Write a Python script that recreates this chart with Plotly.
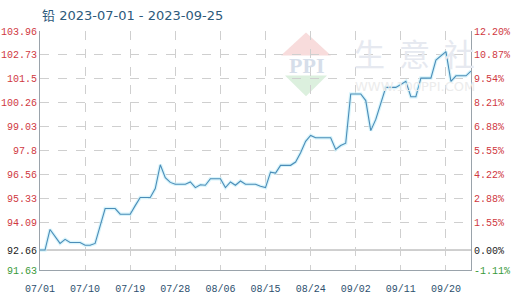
import pandas as pd
import plotly.graph_objects as go

# ---------------- data ----------------
title_text = "铅 2023-07-01 - 2023-09-25"
start_date = "2023-07-01"
end_date = "2023-09-25"
base_value = 92.66

july = [92.66, 92.66, 93.72, 93.36, 93.00, 93.21, 93.05, 93.05, 93.05, 92.91,
        92.91, 93.00, 93.90, 94.80, 94.80, 94.80, 94.51, 94.51, 94.51, 94.95,
        95.37, 95.37, 95.37, 95.83, 97.06, 96.39, 96.15, 96.05, 96.05, 96.05,
        96.17]
august = [95.88, 96.03, 96.00, 96.34, 96.34, 96.34, 95.88, 96.17, 96.00, 96.22,
          96.05, 96.05, 96.05, 95.95, 95.88, 96.68, 96.63, 97.03, 97.03, 97.03,
          97.20, 97.68, 98.27, 98.57, 98.45, 98.45, 98.45, 98.45, 97.85, 98.05,
          98.17]
september = [100.71, 100.71, 100.71, 100.37, 98.82, 99.40, 100.20, 101.05, 101.05,
             101.05, 101.20, 101.36, 100.57, 100.57, 101.53, 101.53, 101.53,
             102.46, 102.70, 102.90, 101.36, 101.65, 101.65, 101.65, 101.89]

left_tick_labels = ["91.63", "92.66", "94.09", "95.33", "96.56", "97.8",
                    "99.03", "100.26", "101.5", "102.73", "103.96"]
right_tick_labels = ["-1.11%", "0.00%", "1.55%", "2.88%", "4.22%", "5.55%",
                     "6.88%", "8.21%", "9.54%", "10.87%", "12.20%"]
x_tick_dates = ["2023-07-01", "2023-07-10", "2023-07-19", "2023-07-28",
                "2023-08-06", "2023-08-15", "2023-08-24", "2023-09-02",
                "2023-09-11", "2023-09-20"]
x_tick_labels = ["07/01", "07/10", "07/19", "07/28", "08/06", "08/15",
                 "08/24", "09/02", "09/11", "09/20"]

# ---------------- build ----------------
dates = pd.date_range(start_date, end_date, freq="D")
values = july + august + september

RED = "#d0393f"
GREEN = "#3a9a3a"
BLACK = "#222222"
LINE = "#4b8db8"
GRID = "#cfcfcf"
AXIS = "#9aa3ab"


def col(v):
    if abs(v - base_value) < 1e-9:
        return BLACK
    return RED if v > base_value else GREEN


tickvals = [float(t) for t in left_tick_labels]
left_text = ["<span style='color:%s'>%s</span>" % (col(v), t)
             for v, t in zip(tickvals, left_tick_labels)]
right_text = ["<span style='color:%s'>%s</span>" % (col(v), t)
              for v, t in zip(tickvals, right_tick_labels)]

# plot area in pixels
W, H = 520, 300
L, R, T, B = 40, 471, 30.5, 270


def px(x):
    return (x - L) / (R - L)


def py(y):
    return (B - y) / (B - T)


fig = go.Figure()

# glow under line
fig.add_trace(go.Scatter(x=dates, y=values, mode="lines",
                         line=dict(color="rgba(200,240,250,0.7)", width=3.5),
                         hoverinfo="skip", showlegend=False))
fig.add_trace(go.Scatter(x=dates, y=values, mode="lines",
                         line=dict(color=LINE, width=1.1),
                         showlegend=False))
# invisible trace for right axis
fig.add_trace(go.Scatter(x=[dates[0]], y=[base_value], yaxis="y2",
                         mode="markers", marker=dict(opacity=0),
                         hoverinfo="skip", showlegend=False))

shapes = []
# watermark logo (decoration)
shapes.append(dict(type="path", xref="paper", yref="paper", layer="below",
                   path="M %f %f L %f %f L %f %f Z" % (px(306), py(32), px(331), py(55), px(281), py(55)),
                   fillcolor="#f8dcdc", line=dict(width=0)))
shapes.append(dict(type="path", xref="paper", yref="paper", layer="below",
                   path="M %f %f L %f %f L %f %f Z" % (px(285), py(75), px(327), py(75), px(306), py(96)),
                   fillcolor="#dcf0de", line=dict(width=0)))
# base line
shapes.append(dict(type="line", xref="paper", yref="y", x0=0, x1=1,
                   y0=base_value, y1=base_value,
                   line=dict(color="#a0a0a0", width=1), layer="below"))

annotations = [
    dict(text=title_text, xref="paper", yref="paper", x=0, y=py(15),
         xanchor="left", yanchor="middle", showarrow=False,
         font=dict(family="DejaVu Sans, Noto Sans CJK SC", size=13, color="#2d5a7b")),
    dict(text="生  意  社", xref="paper", yref="paper", x=px(414), y=py(52),
         xanchor="center", yanchor="middle", showarrow=False,
         font=dict(family="Noto Sans CJK SC", size=31, color="#e6e9f0")),
    dict(text="WWW.100PPI.COM", xref="paper", yref="paper", x=px(415), y=py(86),
         xanchor="center", yanchor="middle", showarrow=False,
         font=dict(family="DejaVu Sans", size=13, color="#ececec")),
    dict(text="<b>PPI</b>", xref="paper", yref="paper", x=px(306), y=py(65),
         xanchor="center", yanchor="middle", showarrow=False,
         font=dict(family="Liberation Serif", size=22, color="#d6deea")),
]

tickfont = dict(family="Liberation Mono", size=10)

fig.update_layout(
    width=W, height=H,
    margin=dict(l=L, r=W - R, t=T, b=H - B, pad=0, autoexpand=False),
    paper_bgcolor="white", plot_bgcolor="white",
    shapes=shapes, annotations=annotations,
    xaxis=dict(type="date", range=[start_date, end_date],
               tickvals=x_tick_dates, ticktext=x_tick_labels,
               tickfont=dict(family="Liberation Mono", size=10, color="#2d4f6e"),
               showgrid=True, gridcolor=GRID, griddash="dash", gridwidth=1,
               showline=True, linecolor=AXIS, linewidth=1,
               ticks="", zeroline=False, ticklabelstandoff=9, automargin=False),
    yaxis=dict(range=[91.63, 103.96], tickvals=tickvals, ticktext=left_text,
               tickfont=tickfont, showgrid=True, gridcolor=GRID, griddash="dash",
               showline=True, linecolor=AXIS, linewidth=1, ticks="",
               zeroline=False, automargin=False),
    yaxis2=dict(range=[91.63, 103.96], tickvals=tickvals, ticktext=right_text,
                tickfont=tickfont, overlaying="y", side="right", showgrid=False,
                showline=True, linecolor=AXIS, linewidth=1, ticks="",
                zeroline=False, automargin=False),
    hovermode=False,
)

fig.write_html("out.html")
